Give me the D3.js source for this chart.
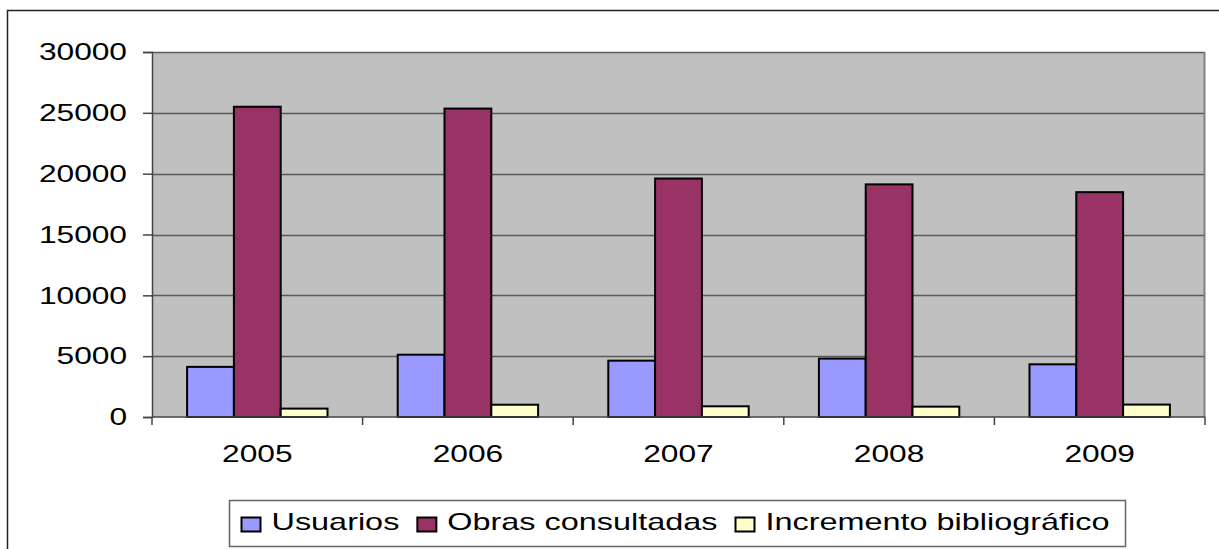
<!DOCTYPE html>
<html>
<head>
<meta charset="utf-8">
<script src="https://cdn.jsdelivr.net/npm/d3@7"></script>
<style>
  body { margin: 0; background: #fff; }
  svg text { font-family: "Liberation Sans", Arial, sans-serif; fill: #000; }
</style>
</head>
<body>
<svg id="chart" width="1219" height="549"></svg>
<script>
// data
const years = ["2005", "2006", "2007", "2008", "2009"];
const seriesNames = ["Usuarios", "Obras consultadas", "Incremento bibliográfico"];
const usuarios = [4120, 5120, 4630, 4800, 4330];
const obras = [25500, 25350, 19600, 19120, 18480];
const incremento = [690, 1010, 880, 850, 1020];
const yTicks = [0, 5000, 10000, 15000, 20000, 25000, 30000];
const colors = ["#9999FF", "#993366", "#FFFFCC"];

const svg = d3.select('#chart');
const width = 1219;
const height = 549;
const margin = { top: 52, bottom: 132, right: 14, left: 152 };
const innerWidth = width - margin.left - margin.right;
const innerHeight = height - margin.top - margin.bottom;

// the original picture is stretched sideways, so the text is widened too
function stretch(sel, factor) {
    sel.each(function() {
        const w = this.getComputedTextLength();
        d3.select(this)
            .attr('textLength', w * factor)
            .attr('lengthAdjust', 'spacingAndGlyphs');
    });
}

const table = years.map((y, i) => ({ year: y, values: [usuarios[i], obras[i], incremento[i]] }));

// outer chart frame: only its top and left sides are inside the picture
svg.append('path')
    .attr('d', 'M7.5,' + height + 'V10.5H' + width)
    .attr('fill', 'none')
    .attr('stroke', '#222')
    .attr('stroke-width', 1.5);

const g = svg.append('g')
    .attr('transform', 'translate(' + margin.left + ',' + margin.top + ')');

const xScale = d3.scaleBand()
    .domain(years)
    .range([0, innerWidth])
    .paddingInner(1 / 3)   // 150% gap width in excel terms
    .paddingOuter(1 / 6);
const xInner = d3.scaleBand()
    .domain(d3.range(seriesNames.length))
    .range([0, xScale.bandwidth()]);
const yScale = d3.scaleLinear()
    .domain([0, 30000])
    .range([innerHeight, 0]);

// plot area
g.append('rect')
    .attr('width', innerWidth).attr('height', innerHeight)
    .attr('fill', '#C0C0C0');

// gridlines
g.selectAll('.grid')
    .data(yTicks.filter(t => t > 0))
    .enter()
    .append('line')
    .attr('x1', 0).attr('x2', innerWidth)
    .attr('y1', d => Math.round(yScale(d)) + 0.5)
    .attr('y2', d => Math.round(yScale(d)) + 0.5)
    .attr('stroke', '#5a5a5a')
    .attr('stroke-width', 1.5);

// right border of the plot area
g.append('line')
    .attr('x1', innerWidth - 0.5).attr('x2', innerWidth - 0.5)
    .attr('y1', 0).attr('y2', innerHeight)
    .attr('stroke', '#808080').attr('stroke-width', 2);

// bars
const groups = g.selectAll('.year')
    .data(table)
    .enter()
    .append('g')
    .attr('transform', d => 'translate(' + xScale(d.year) + ',0)');

groups.selectAll('rect')
    .data(d => d.values)
    .enter()
    .append('rect')
    .attr('x', (d, i) => xInner(i))
    .attr('y', d => yScale(d))
    .attr('width', xInner.bandwidth())
    .attr('height', d => innerHeight - yScale(d))
    .attr('fill', (d, i) => colors[i])
    .attr('stroke', '#000')
    .attr('stroke-width', 2);

// y axis
const yAxis = d3.axisLeft(yScale).tickValues(yTicks).tickSize(9).tickFormat(d3.format('d'));
g.append('g').call(yAxis)
    .call(a => a.select('.domain').attr('stroke', '#444').attr('stroke-width', 1.5))
    .call(a => a.selectAll('.tick line').attr('stroke', '#444').attr('stroke-width', 1.5))
    .selectAll('text')
    .attr('x', -25)
    .attr('font-family', null)
    .style('font-size', '24px')
    .call(stretch, 1.32);

// x axis: ticks sit between the categories
g.append('g')
    .attr('transform', 'translate(0,' + innerHeight + ')')
    .call(a => a.append('line')
        .attr('x1', 0).attr('x2', innerWidth)
        .attr('stroke', '#444').attr('stroke-width', 1.5))
    .call(a => a.selectAll('.sep')
        .data(d3.range(years.length + 1))
        .enter()
        .append('line')
        .attr('x1', i => i * innerWidth / years.length)
        .attr('x2', i => i * innerWidth / years.length)
        .attr('y1', 0).attr('y2', 8)
        .attr('stroke', '#444').attr('stroke-width', 1.5))
    .selectAll('.lbl')
    .data(years)
    .enter()
    .append('text')
    .attr('x', d => xScale(d) + xScale.bandwidth() / 2)
    .attr('y', 45)
    .attr('text-anchor', 'middle')
    .style('font-size', '24px')
    .text(d => d)
    .call(stretch, 1.32);

// legend
const legend = svg.append('g').attr('transform', 'translate(229.5,500.5)');
legend.append('rect')
    .attr('width', 896).attr('height', 46)
    .attr('fill', '#fff')
    .attr('stroke', '#666').attr('stroke-width', 1.5);

let cursor = 12;
seriesNames.forEach((name, i) => {
    legend.append('rect')
        .attr('x', cursor).attr('y', 17)
        .attr('width', 19).attr('height', 14)
        .attr('fill', colors[i])
        .attr('stroke', '#000').attr('stroke-width', 2);
    const t = legend.append('text')
        .attr('x', cursor + 30).attr('y', 29)
        .style('font-size', '24px')
        .text(name)
        .call(stretch, 1.35);
    cursor += 30 + (+t.attr('textLength')) + 18;
});
</script>
</body>
</html>
